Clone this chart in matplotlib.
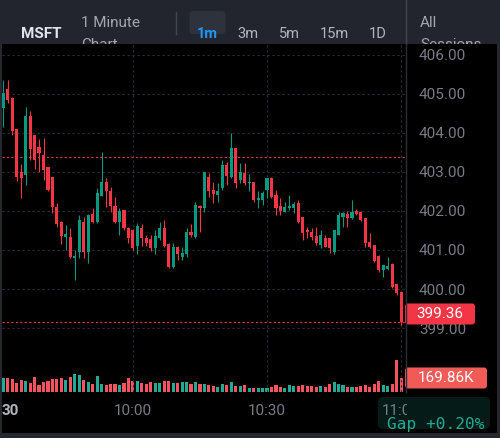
import matplotlib
matplotlib.use("Agg")
import matplotlib.pyplot as plt
from matplotlib.patches import FancyBboxPatch
from matplotlib.transforms import blended_transform_factory
import numpy as np

plt.rcParams['font.family'] = ['Roboto', 'DejaVu Sans']

# minutes after 9:30, one candle per minute
minutes = np.arange(1, 91)

opens = [404.63, 405.12, 404.89, 404.10, 403.01, 402.92, 404.44, 403.95, 403.63, 403.44,
         403.12, 402.86, 402.11, 401.71, 401.33, 401.34, 400.80, 400.96, 401.73, 400.96,
         401.91, 401.73, 402.38, 402.73, 402.52, 402.13, 401.73, 402.03, 401.56, 401.51,
         401.09, 401.56, 401.32, 401.27, 401.04, 401.30, 401.56, 401.15, 400.57, 401.08,
         400.83, 400.91, 401.47, 401.34, 402.13, 402.07, 402.88, 402.54, 402.41, 402.58,
         403.18, 402.88, 403.61, 402.79, 402.98, 402.71, 402.75, 402.28, 402.28, 402.54,
         402.84, 402.41, 402.13, 401.98, 402.07, 402.07, 402.20, 401.85, 401.50, 401.47,
         401.36, 401.13, 401.32, 401.30, 400.96, 401.38, 401.84, 401.92, 401.81, 402.01,
         401.98, 401.81, 401.21, 401.13, 400.85, 400.49, 400.50, 400.64, 400.13, 399.93]
highs = [405.36, 405.36, 404.93, 404.10, 403.20, 404.67, 404.56, 403.95, 403.85, 403.86,
         403.14, 402.88, 402.21, 401.75, 401.64, 401.56, 400.99, 401.90, 401.85, 401.91,
         402.07, 402.58, 403.50, 402.84, 402.62, 402.37, 402.07, 402.03, 401.60, 401.55,
         401.68, 401.67, 401.38, 401.38, 401.51, 401.73, 401.77, 401.19, 401.17, 401.10,
         401.08, 401.56, 401.67, 402.24, 402.15, 403.01, 402.97, 402.75, 402.71, 403.31,
         403.26, 403.99, 403.61, 403.22, 403.24, 402.96, 402.75, 402.50, 402.50, 402.84,
         402.87, 402.54, 402.32, 402.24, 402.41, 402.24, 402.28, 401.85, 401.60, 401.56,
         401.60, 401.51, 401.38, 401.32, 401.51, 401.98, 401.98, 402.01, 402.28, 402.04,
         402.01, 401.81, 401.43, 401.13, 400.87, 400.62, 400.83, 400.67, 400.13, 399.93]
lows = [404.14, 404.76, 403.95, 402.78, 402.32, 402.67, 403.31, 403.08, 403.01, 402.79,
        402.52, 401.96, 401.60, 401.15, 400.99, 400.79, 400.23, 400.79, 400.79, 400.66,
        401.70, 401.70, 402.38, 402.11, 401.98, 401.68, 401.38, 401.51, 401.17, 400.99,
        400.91, 401.09, 401.10, 400.98, 400.91, 401.26, 401.07, 400.53, 400.53, 400.74,
        400.74, 400.83, 401.34, 401.30, 401.47, 401.98, 402.37, 402.20, 402.24, 402.54,
        402.67, 402.84, 402.58, 402.71, 402.67, 402.50, 402.24, 402.07, 402.15, 402.33,
        402.33, 401.90, 401.90, 401.97, 402.03, 401.96, 401.70, 401.26, 401.30, 401.26,
        401.14, 401.04, 401.07, 400.93, 400.91, 401.38, 401.60, 401.58, 401.79, 401.90,
        401.75, 401.07, 401.04, 400.70, 400.44, 400.30, 400.49, 400.02, 399.85, 399.08]
closes = [405.03, 404.85, 404.06, 402.88, 402.84, 404.44, 403.60, 403.31, 403.48, 403.05,
          402.54, 402.09, 401.66, 401.36, 401.41, 400.83, 400.85, 401.77, 400.96, 401.90,
          401.73, 402.47, 402.73, 402.50, 402.13, 401.73, 402.00, 401.56, 401.30, 401.04,
          401.62, 401.30, 401.17, 401.04, 401.36, 401.56, 401.09, 400.57, 401.08, 400.91,
          400.93, 401.47, 401.38, 402.15, 402.08, 403.01, 402.50, 402.44, 402.52, 403.18,
          402.90, 403.61, 402.71, 403.01, 402.71, 402.75, 402.28, 402.34, 402.45, 402.84,
          402.35, 402.07, 402.01, 402.11, 402.14, 402.17, 401.73, 401.44, 401.45, 401.34,
          401.17, 401.38, 401.08, 401.04, 401.51, 401.90, 401.94, 401.81, 401.98, 401.92,
          401.77, 401.19, 401.08, 400.73, 400.49, 400.62, 400.59, 400.06, 399.89, 399.15]
# volume in thousands
volumes_k = [170, 170, 158, 109, 142, 133, 109, 182, 81, 121,
             129, 154, 154, 174, 142, 182, 222, 206, 142, 117,
             97, 194, 97, 89, 101, 97, 89, 109, 170, 129,
             129, 113, 101, 121, 109, 109, 129, 129, 113, 109,
             121, 121, 101, 121, 101, 101, 81, 69, 61, 101,
             89, 121, 73, 73, 81, 53, 53, 49, 49, 49,
             61, 81, 61, 53, 81, 73, 73, 81, 73, 73,
             61, 73, 61, 101, 121, 101, 81, 61, 61, 61,
             73, 81, 61, 93, 133, 89, 73, 101, 384, 169.86]

prev_close = 403.38
last_price = 399.36
last_volume_text = "169.86K"
gap_text = "Gap +0.20%"
price_ticks = [399, 400, 401, 402, 403, 404, 405, 406]
time_ticks = [0, 30, 60, 90]
time_labels = ["30", "10:00", "10:30", "11:00"]
intervals = ["3m", "5m", "15m", "1D"]
interval_x = [248, 289, 334, 377.5]

UP, DOWN = '#089981', '#f23645'
VUP, VDOWN = '#22ab94', '#f7525f'
GRID = '#2a2e39'

W, H = 500, 438


def rect(x0, y0, x1, y1):
    # pixel box (from top-left) -> figure fraction
    return [x0 / W, 1 - y1 / H, (x1 - x0) / W, (y1 - y0) / H]


def clean(a):
    a.set_xticks([])
    a.set_yticks([])
    for s in a.spines.values():
        s.set_visible(False)


fig = plt.figure(figsize=(W / 100, H / 100), dpi=100, facecolor='#25282f')

bg = fig.add_axes(rect(2, 44, 497, 433), zorder=0, facecolor='black')
clean(bg)

axv = fig.add_axes(rect(2, 44, 406, 392), zorder=2, facecolor='black')
ax = fig.add_axes(rect(2, 44, 406, 392), zorder=3, sharex=axv)
ax.patch.set_visible(False)
clean(axv)
for s in ax.spines.values():
    s.set_visible(False)

opens, highs, lows, closes = map(np.array, (opens, highs, lows, closes))
up = closes >= opens
ccol = np.where(up, UP, DOWN)
vcol = np.where(up, VUP, VDOWN)

# grid
for p in price_ticks:
    ax.axhline(p, color=GRID, lw=0.8, ls=(0, (2, 2.5)), zorder=0)
for t in time_ticks[1:]:
    ax.axvline(t, color=GRID, lw=0.8, ls=(0, (2, 2.5)), zorder=0)

axv.bar(minutes, volumes_k, width=0.7, color=vcol, linewidth=0)
axv.set_ylim(0, 4220)

ax.vlines(minutes, lows, highs, colors=ccol, lw=0.8, zorder=2)
ax.bar(minutes, np.maximum(np.abs(closes - opens), 0.03), width=0.7,
       bottom=np.minimum(opens, closes), color=ccol, linewidth=0, zorder=3)

ax.axhline(prev_close, color=DOWN, lw=0.8, ls=(0, (2, 2)), zorder=1)
ax.axhline(closes[-1], color=DOWN, lw=0.8, ls=(0, (2, 2)), zorder=1)

ax.set_xlim(0.716, 91.09)
ax.set_ylim(397.36, 406.28)

ax.yaxis.tick_right()
ax.set_yticks(price_ticks)
ax.set_yticklabels([f'{p:.2f}' for p in price_ticks])
ax.tick_params(axis='y', length=0, pad=9.4, labelsize=11, labelcolor='#787b86')
ax.tick_params(axis='x', length=0, labelbottom=False)

tr = blended_transform_factory(ax.transData, ax.transAxes)
for t, lab in zip(time_ticks, time_labels):
    if t == 0:
        ax.text(0.0, -0.0546, lab, transform=ax.transAxes, ha='left', va='center',
                fontsize=11, fontweight='bold', color='#b2b5be', clip_on=False)
    else:
        ax.text(t, -0.0546, lab, transform=tr, ha='center', va='center',
                fontsize=11, color='#787b86', clip_on=False)

# covers the right price column below the chart
rp = fig.add_axes(rect(406.5, 392, 497, 433), zorder=4, facecolor='black')
clean(rp)

# top toolbar
bar = fig.add_axes(rect(0, 0, 500, 44), zorder=5, facecolor='#22252d')
clean(bar)
bar.set_xlim(0, 500)
bar.set_ylim(44, 0)
bar.text(20.5, 37.7, "MSFT", fontsize=11, fontweight='bold', color='#e0e3eb', va='baseline')
bar.text(81, 27, "1 Minute", fontsize=11, color='#a3a6af', va='baseline', clip_on=True)
bar.text(81, 49, "Chart", fontsize=11, color='#a3a6af', va='baseline', clip_on=True)
bar.plot([176, 176], [12, 34], color='#434651', lw=1)
bar.add_patch(FancyBboxPatch((189.5, 11), 36, 23, boxstyle='round,pad=0,rounding_size=4',
                             fc='#2e323c', ec='none'))
bar.text(207.5, 38, "1m", fontsize=10.5, fontweight='bold', color='#2196f3',
         ha='center', va='baseline')
for lab, x in zip(intervals, interval_x):
    bar.text(x, 38, lab, fontsize=10.5, color='#b2b5be', ha='center', va='baseline')
bar.text(420, 27, "All", fontsize=11, color='#a3a6af', va='baseline', clip_on=True)
bar.text(420, 49, "Sessions", fontsize=11, color='#a3a6af', va='baseline', clip_on=True)

# overlay in pixel coordinates
ov = fig.add_axes([0, 0, 1, 1], zorder=10)
ov.set_axis_off()
ov.set_xlim(0, W)
ov.set_ylim(H, 0)


def to_px(a, y):
    return H - a.transData.transform((1.0, y))[1]


ov.plot([406, 406], [0, 44], color='#434651', lw=1)
ov.plot([406, 406], [44, 392], color='#2a2e39', lw=1)

yp = to_px(ax, last_price)
ov.add_patch(FancyBboxPatch((405, yp - 10.5), 70, 21, boxstyle='round,pad=0,rounding_size=3',
                            fc='#f23645', ec='none'))
ov.text(440, yp, f'{last_price:.2f}', fontsize=11, color='white', ha='center', va='center')

yv = to_px(axv, volumes_k[-1])
ov.add_patch(FancyBboxPatch((405, yv - 10.5), 82, 21, boxstyle='round,pad=0,rounding_size=3',
                            fc='#f05a57', ec='none'))
ov.text(446, yv, last_volume_text, fontsize=11, color='white', ha='center', va='center')

ov.add_patch(FancyBboxPatch((378, 397), 112, 32, boxstyle='round,pad=0,rounding_size=5',
                            fc=(34 / 255, 171 / 255, 148 / 255, 0.16), ec='none'))
ov.text(387, 429, gap_text, fontsize=11.6, family='DejaVu Sans Mono', color='#22ab94',
        ha='left', va='baseline')

fig.savefig('out.png', dpi=100, facecolor=fig.get_facecolor())
